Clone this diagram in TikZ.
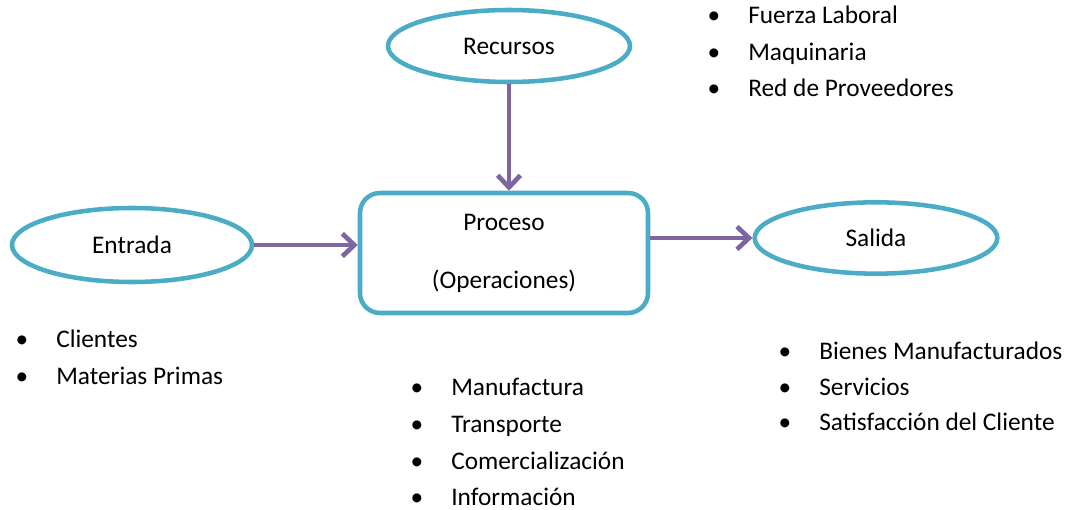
\documentclass[tikz,border=0pt]{standalone}
\usepackage{fontspec}
\setmainfont{Carlito}
\usetikzlibrary{arrows.meta,shapes.geometric}
\definecolor{aqua}{HTML}{4BACC6}
\definecolor{lila}{HTML}{8064A2}
\newcommand{\Ellipse}[4]% pos, name, width, height
{\node[ellipse,draw=aqua,line width=3.4pt,fill=white,minimum width=#3,minimum height=#4,inner sep=0] (#2) at (#1) {#2};
}
\newcommand{\Arrow}[2]%
{ \draw[-{Straight Barb[length=9pt,width=17pt]},lila,line width=3.5pt] (#1) -- (#2);
}
\newcommand{\Item}[3]% pos, name, text
{\node[anchor=base west,inner sep=0] (#2) at (#1) {\makebox[27pt][l]{\hspace{-3.5pt}\textbullet}#3};
}

\begin{document}
\begin{tikzpicture}[x=0.75pt,y=-0.75pt,font=\fontsize{19pt}{23pt}\selectfont]
      \useasboundingbox (0,0) rectangle (1068,510);
      \Ellipse{509, 46}{Recursos}{181.5pt}{54pt}
      \Ellipse{132, 245}{Entrada}{180pt}{55.5pt}
      \Ellipse{876, 238}{Salida}{182pt}{53.5pt}
      \node[draw=aqua,line width=3.4pt,rounded corners=15pt,minimum width=216pt,minimum height=90pt,align=center,inner sep=0] (Proceso) at (504, 253) {Proceso\\[20.5pt](Operaciones)};
      \Arrow{Recursos.south}{Recursos.south |- Proceso.north}
      \Arrow{Entrada.east}{Entrada.east -| Proceso.west}
      \Arrow{Proceso.east |- Salida.west}{Salida.west}
      % recursos
      \Item{712, 24}{fuerza}{Fuerza Laboral}
      \Item{712, 61}{maquinaria}{Maquinaria}
      \Item{712, 97}{red}{Red de Proveedores}
      % entrada
      \Item{20, 347}{clientes}{Clientes}
      \Item{20, 384}{materias}{Materias Primas}
      % proceso
      \Item{415, 395}{manufactura}{Manufactura}
      \Item{415, 432}{transporte}{Transporte}
      \Item{415, 469}{comercial}{Comercialización}
      \Item{415, 505}{informacion}{Información}
      % salida
      \Item{783, 359}{bienes}{Bienes Manufacturados}
      \Item{783, 395}{servicios}{Servicios}
      \Item{783, 430}{satisfaccion}{Satisfacción del Cliente}
    \end{tikzpicture}
\end{document}
